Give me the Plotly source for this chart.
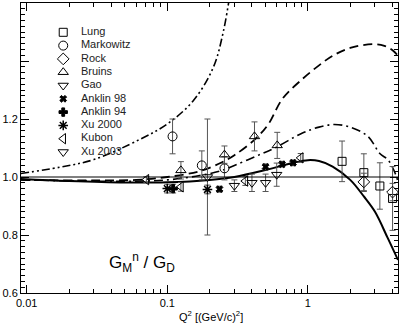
import plotly.graph_objects as go

# data points: Q^2 in (GeV/c)^2, ratio GMn/GD and its error
lung_q2 = [1.75, 2.5, 3.25, 4.0]
lung_r = [1.054, 1.015, 0.969, 0.926]
lung_err = [0.07, 0.065, 0.08, 0.11]

markowitz_q2 = [0.109, 0.176, 0.255]
markowitz_r = [1.14, 1.04, 1.03]
markowitz_err = [0.06, 0.05, 0.04]

rock_q2 = [2.5, 4.0]
rock_r = [0.983, 0.948]
rock_err = [0.03, 0.03]

bruins_q2 = [0.125, 0.255, 0.417, 0.605]
bruins_r = [1.023, 1.077, 1.14, 1.109]
bruins_err = [0.03, 0.03, 0.05, 0.045]

gao_q2 = [0.193]
gao_r = [1.0]
gao_err = [0.2]

anklin98_q2 = [0.235, 0.5, 0.655, 0.784]
anklin98_r = [0.958, 1.035, 1.044, 1.049]
anklin98_err = [0.01, 0.01, 0.01, 0.01]

anklin94_q2 = [0.11]
anklin94_r = [0.96]
anklin94_err = [0.015]

xu2000_q2 = [0.1, 0.193]
xu2000_r = [0.96, 0.957]
xu2000_err = [0.015, 0.015]

kubon_q2 = [0.071, 0.125, 0.359, 0.889]
kubon_r = [0.991, 0.966, 0.986, 1.066]
kubon_err = [0.01, 0.015, 0.015, 0.015]

xu2003_q2 = [0.3, 0.4, 0.5, 0.6]
xu2003_r = [0.97, 0.98, 0.98, 1.008]
xu2003_err = [0.02, 0.03, 0.03, 0.04]

# model curves
solid_q2 = [0.0091, 0.02, 0.05, 0.1, 0.2, 0.3, 0.5, 0.8, 1.0, 1.2, 1.5, 2.0, 2.5, 3.0, 3.7, 4.37]
solid_r = [0.993, 0.986, 0.981, 0.982, 0.99, 1.0, 1.024, 1.05, 1.058, 1.055, 1.036, 0.99, 0.933, 0.88, 0.789, 0.714]

dash_q2 = [0.0091, 0.03, 0.06, 0.1, 0.17, 0.243, 0.3, 0.42, 0.52, 0.66, 0.9, 1.2, 1.5, 2.0, 2.9, 3.5, 4.0, 4.37]
dash_r = [0.99, 0.988, 0.99, 1.0, 1.02, 1.05, 1.075, 1.13, 1.18, 1.27, 1.335, 1.385, 1.418, 1.445, 1.458, 1.452, 1.437, 1.418]

dashdot_q2 = [0.0091, 0.05, 0.1, 0.17, 0.243, 0.3, 0.42, 0.58, 0.9, 1.2, 1.54, 2.0, 2.67, 3.26, 3.7, 4.1, 4.37]
dashdot_r = [0.99, 0.985, 0.99, 1.005, 1.022, 1.04, 1.07, 1.1, 1.15, 1.172, 1.181, 1.172, 1.14, 1.08, 1.06, 1.022, 0.985]

dashdotdot_q2 = [0.0091, 0.0173, 0.03, 0.064, 0.1, 0.153, 0.212, 0.25, 0.285]
dashdotdot_r = [1.012, 1.034, 1.06, 1.13, 1.183, 1.263, 1.377, 1.5, 1.66]

series = [
    ("Lung", lung_q2, lung_r, lung_err, "square-open", 8),
    ("Markowitz", markowitz_q2, markowitz_r, markowitz_err, "circle-open", 9),
    ("Rock", rock_q2, rock_r, rock_err, "diamond-open", 9),
    ("Bruins", bruins_q2, bruins_r, bruins_err, "triangle-up-open", 9),
    ("Gao", gao_q2, gao_r, gao_err, "triangle-down-open", 9),
    ("Anklin 98", anklin98_q2, anklin98_r, anklin98_err, "x", 6),
    ("Anklin 94", anklin94_q2, anklin94_r, anklin94_err, "cross", 7),
    ("Xu 2000", xu2000_q2, xu2000_r, xu2000_err, "asterisk-open", 8),
    ("Kubon", kubon_q2, kubon_r, kubon_err, "triangle-left-open", 9),
    ("Xu 2003", xu2003_q2, xu2003_r, xu2003_err, "triangle-down-open", 9),
]

curves = [
    (dashdotdot_q2, dashdotdot_r, "8px,3px,2px,3px,2px,3px", 1.6),
    (dash_q2, dash_r, "9px,5px", 1.8),
    (dashdot_q2, dashdot_r, "9px,4px,2px,4px", 1.6),
    (solid_q2, solid_r, "solid", 2),
]

fig = go.Figure()

for q2, r, dash, w in curves:
    fig.add_trace(go.Scatter(x=q2, y=r, mode="lines", showlegend=False, hoverinfo="skip",
                             line=dict(color="black", width=w, dash=dash, shape="spline", smoothing=1.0)))


def marker_style(symbol, size):
    lw = 1.5 if symbol == "asterisk-open" else 1
    return dict(symbol=symbol, size=size, color="black", line=dict(color="black", width=lw))


for name, q2, r, err, symbol, size in series:
    fig.add_trace(go.Scatter(
        x=q2, y=r, mode="markers", name=name, showlegend=False,
        marker=marker_style(symbol, size),
        error_y=dict(type="data", array=err, color="#555555", thickness=1, width=3),
    ))

# hand-made legend: rows are tighter than plotly's own legend allows,
# so keys and names sit on a hidden overlay axis spanning the plot area
row0 = 32.3
row_gap = 13.3
plot_top, plot_h = 3, 290
key_x = 0.112
name_x = 0.159
rows_y = [1 - (row0 + i * row_gap - plot_top) / plot_h for i in range(len(series))]
for (name, q2, r, err, symbol, size), yp in zip(series, rows_y):
    fig.add_trace(go.Scatter(x=[key_x], y=[yp], xaxis="x2", yaxis="y2", mode="markers",
                             showlegend=False, hoverinfo="skip", marker=marker_style(symbol, size)))
fig.add_trace(go.Scatter(x=[name_x] * len(series), y=rows_y, xaxis="x2", yaxis="y2", mode="text",
                         text=[s[0] for s in series], textposition="middle right",
                         showlegend=False, hoverinfo="skip",
                         textfont=dict(family="Liberation Sans, Arial", size=11, color="#222222")))

fig.add_annotation(x=0.321, y=0.105, xref="paper", yref="paper", showarrow=False,
                   xanchor="center", yanchor="middle",
                   text="G<sub>M</sub><sup>n</sup> / G<sub>D</sub>",
                   font=dict(family="Liberation Sans, Arial", size=17, color="black"))
fig.add_annotation(x=0.505, y=-0.079, xref="paper", yref="paper", showarrow=False,
                   xanchor="center", yanchor="middle",
                   text="Q<sup>2</sup> [(GeV/c)<sup>2</sup>]",
                   font=dict(family="Liberation Sans, Arial", size=11, color="black"))

# reference line at unity
fig.add_shape(type="line", xref="paper", yref="y", x0=0, x1=1, y0=1.0, y1=1.0,
              line=dict(color="black", width=1))

minor_x = [m * 10 ** e for e in (-3, -2, -1, 0) for m in range(2, 10)]

fig.update_xaxes(type="log", range=[-2.0405, 0.6408], showline=True, linecolor="black", linewidth=1,
                 mirror="ticks", ticks="inside", ticklen=8, tickcolor="black",
                 tickvals=[0.01, 0.1, 1], ticktext=["0.01", "0.1", "1"], showgrid=False, zeroline=False,
                 tickfont=dict(family="Liberation Sans, Arial", size=11, color="black"),
                 minor=dict(ticks="inside", ticklen=4, tickcolor="black", tickvals=minor_x, showgrid=False))
fig.update_yaxes(range=[0.6, 1.6], showline=True, linecolor="black", linewidth=1,
                 mirror="ticks", ticks="inside", ticklen=8, tickcolor="black",
                 tickvals=[0.6, 0.8, 1.0, 1.2, 1.4], ticktext=["0.6", "0.8", "1.0", "1.2", " "],
                 showgrid=False, zeroline=False,
                 tickfont=dict(family="Liberation Sans, Arial", size=11, color="black"),
                 minor=dict(ticks="inside", ticklen=4, tickcolor="black", dtick=0.02, showgrid=False))

fig.update_layout(
    width=401, height=327, margin=dict(l=21, r=3, t=3, b=34),
    paper_bgcolor="white", plot_bgcolor="white", showlegend=False,
    font=dict(family="Liberation Sans, Arial", size=11, color="black"),
    xaxis2=dict(overlaying="x", range=[0, 1], visible=False, fixedrange=True),
    yaxis2=dict(overlaying="y", range=[0, 1], visible=False, fixedrange=True),
)

# the page body has an 8px default margin; drop it so the figure sits at the corner
fig.write_html("out.html", config={"displayModeBar": False},
               post_script="document.body.style.margin = '0';")
